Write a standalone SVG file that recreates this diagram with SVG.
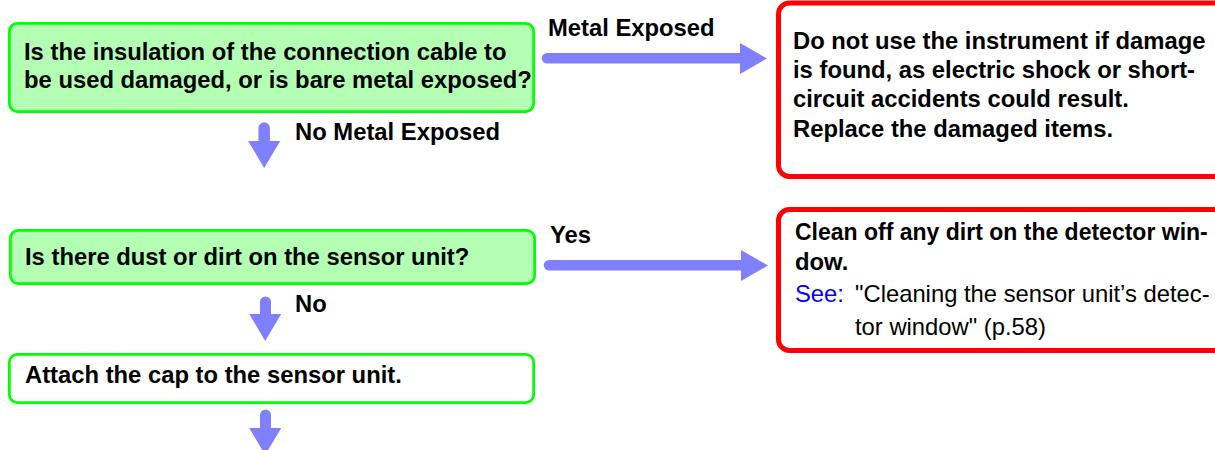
<svg xmlns="http://www.w3.org/2000/svg" xmlns:xlink="http://www.w3.org/1999/xlink" width="1215" height="450" viewBox="0 0 1215 450">
  <style>
    .q { fill: #b3ffb3; stroke: #00ff00; stroke-width: 2.7; }
    .step { fill: #ffffff; stroke: #00ff00; stroke-width: 2.7; }
    .warn { fill: #ffffff; stroke: #ff0000; stroke-width: 5; }
    .b { font-family: "Liberation Sans", Arial, sans-serif; font-weight: bold; font-size: 23.8px; fill: #000000; }
    .r { font-family: "Liberation Sans", Arial, sans-serif; font-size: 23.8px; fill: #000000; }
    .tight { font-size: 23px; }
    .see { fill: #0000ff; }
    .shaft { stroke: #8080ff; stroke-linecap: round; fill: none; }
    .head { fill: #8080ff; }
  </style>
  <defs>
    <!-- arrowheads drawn with the tip at the origin -->
    <polygon id="headDown" points="-16,-27 16,-27 0,0"/>
    <polygon id="headRight" points="-27,-15.5 0,0 -27,15.5"/>
  </defs>

  <rect width="1215" height="450" fill="#ffffff"/>

  <!-- connectors -->
  <g id="connectors">
    <!-- insulation check: metal exposed -->
    <line class="shaft" x1="547" y1="58.3" x2="745" y2="58.3" stroke-width="10.5"/>
    <use xlink:href="#headRight" class="head" x="767" y="58.5"/>
    <!-- insulation check: no metal exposed -->
    <line class="shaft" x1="264.2" y1="128" x2="264.2" y2="146" stroke-width="11.5"/>
    <use xlink:href="#headDown" class="head" x="264.2" y="168"/>
    <!-- dust check: yes -->
    <line class="shaft" x1="549" y1="265.3" x2="745" y2="265.3" stroke-width="10.5"/>
    <use xlink:href="#headRight" class="head" x="768" y="265.5"/>
    <!-- dust check: no -->
    <line class="shaft" x1="265.5" y1="302" x2="265.5" y2="318" stroke-width="11"/>
    <use xlink:href="#headDown" class="head" x="265.2" y="341"/>
    <!-- after cap attached -->
    <line class="shaft" x1="265.5" y1="415" x2="265.5" y2="432" stroke-width="11"/>
    <use xlink:href="#headDown" class="head" x="265.2" y="455"/>

    <text class="b" x="548" y="36">Metal Exposed</text>
    <text class="b" x="295" y="140">No Metal Exposed</text>
    <text class="b" x="550" y="243">Yes</text>
    <text class="b" x="295" y="312">No</text>
  </g>

  <!-- question: cable insulation -->
  <g id="q-insulation">
    <rect class="q" x="9.35" y="23.35" width="524.3" height="88.3" rx="8"/>
    <text class="b" x="24" y="60">Is the insulation of the connection cable to</text>
    <text class="b" x="24" y="88.3">be used damaged, or is bare metal exposed?</text>
  </g>

  <!-- warning: damaged cable -->
  <g id="warn-damage">
    <rect class="warn" x="778.5" y="3" width="460" height="173.5" rx="11"/>
    <text class="b" x="793" y="48.5">Do not use the instrument if damage</text>
    <text class="b" x="793" y="78">is found, as electric shock or short-</text>
    <text class="b" x="793" y="107.3">circuit accidents could result.</text>
    <text class="b" x="793" y="136.7">Replace the damaged items.</text>
  </g>

  <!-- question: dust on sensor -->
  <g id="q-dust">
    <rect class="q" x="10.35" y="230.35" width="524.3" height="53.3" rx="8"/>
    <text class="b" x="25" y="265">Is there dust or dirt on the sensor unit?</text>
  </g>

  <!-- action: clean detector window -->
  <g id="act-clean">
    <rect class="warn" x="778.5" y="209.5" width="460" height="141" rx="11"/>
    <text class="b tight" x="795" y="240">Clean off any dirt on the detector win-</text>
    <text class="b" x="795" y="270">dow.</text>
    <text class="r see" x="795" y="302">See:</text>
    <text class="r" x="855" y="302">"Cleaning the sensor unit’s detec-</text>
    <text class="r" x="855" y="334.5">tor window" (p.58)</text>
  </g>

  <!-- step: attach cap -->
  <g id="step-cap">
    <rect class="step" x="9.35" y="354.35" width="524.3" height="48.3" rx="8"/>
    <text class="b" x="25" y="383">Attach the cap to the sensor unit.</text>
  </g>
</svg>
